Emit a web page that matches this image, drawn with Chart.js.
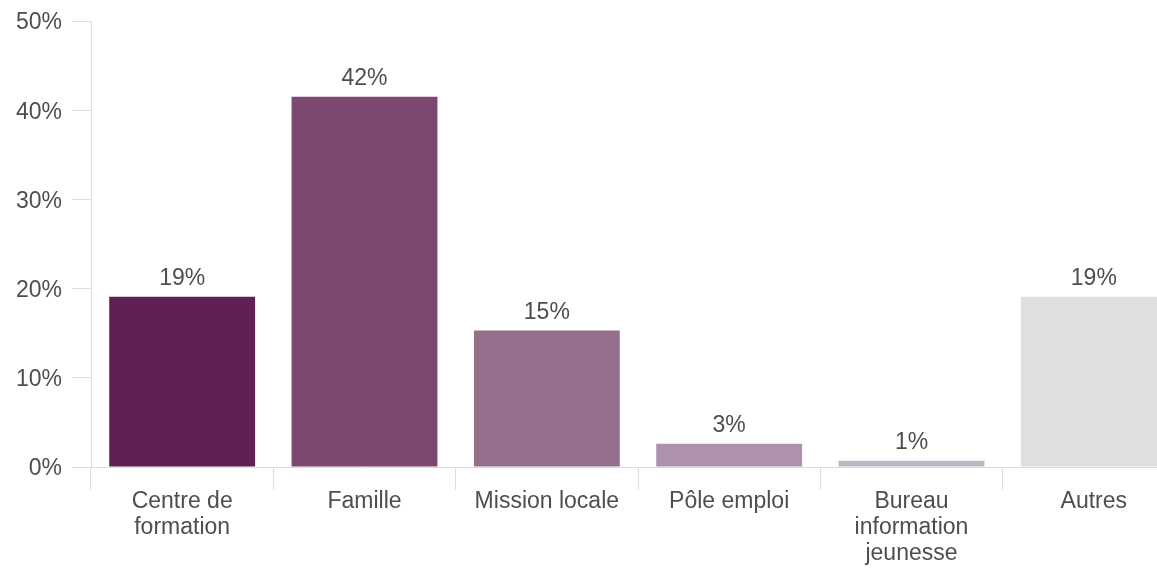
<!DOCTYPE html>
<html>
<head>
<meta charset="utf-8">
<script src="https://cdn.jsdelivr.net/npm/chart.js@4"></script>
<style>
  html, body { margin:0; padding:0; background:#fff; overflow:hidden; }
  #wrap { width:1200px; height:570px; }
</style>
</head>
<body>
<div id="wrap"><canvas id="chart" width="1200" height="570"></canvas></div>
<script>
// données
const categories = [["Centre de", "formation"], "Famille", "Mission locale", "Pôle emploi", ["Bureau", "information", "jeunesse"], "Autres"];
const values = [19.1, 41.5, 15.3, 2.6, 0.7, 19.1];
const valueLabels = ["19%", "42%", "15%", "3%", "1%", "19%"];
const barColors = ["#5f2154", "#7c4870", "#94708d", "#ae91aa", "#bdb6c4", "#dfdfdf"];
const yTicks = [0, 10, 20, 30, 40, 50];

const axisColor = "#d9dde6";
const textColor = "#4e4e4e";
const FONT = "'Liberation Sans', Arial, sans-serif";

// étiquettes au-dessus des barres
const barLabels = {
  id: "barLabels",
  afterDatasetsDraw(chart){
    const ctx = chart.ctx;
    const meta = chart.getDatasetMeta(0);
    ctx.save();
    ctx.font = "23px " + FONT;
    ctx.fillStyle = textColor;
    ctx.textAlign = "center";
    ctx.textBaseline = "alphabetic";
    meta.data.forEach((bar, i)=>{
      ctx.fillText(valueLabels[i], bar.x, bar.y - 12);
    });
    ctx.restore();
  }
};

new Chart(document.getElementById("chart"), {
  type: "bar",
  data: {
    labels: categories,
    datasets: [{
      data: values,
      backgroundColor: barColors,
      borderWidth: 0,
      barPercentage: 1,
      categoryPercentage: 0.8
    }]
  },
  options: {
    responsive: false,
    animation: false,
    layout: { padding: { top: 21, right: 15, left: 0, bottom: 0 } },
    plugins: { legend: { display: false }, tooltip: { enabled: false } },
    scales: {
      x: {
        grid: { display: true, drawOnChartArea: false, offset: true, tickLength: 23, color: axisColor },
        border: { color: axisColor },
        ticks: { color: textColor, font: { family: FONT, size: 23, lineHeight: 1.13 }, padding: -1, maxRotation: 0, autoSkip: false },
        afterFit(scale){ scale.height = 103; }
      },
      y: {
        min: 0, max: 50,
        afterBuildTicks(scale){ scale.ticks = yTicks.map(v => ({ value: v })); },
        grid: { display: true, drawOnChartArea: false, tickLength: 19, color: axisColor },
        border: { color: axisColor },
        ticks: { color: textColor, font: { family: FONT, size: 23 }, padding: 10, labelOffset: 2, callback: v => v + "%" },
        afterFit(scale){ scale.width = 91; scale.paddingTop = 0; scale.paddingBottom = 0; }
      }
    }
  },
  plugins: [barLabels]
});
</script>
</body>
</html>
